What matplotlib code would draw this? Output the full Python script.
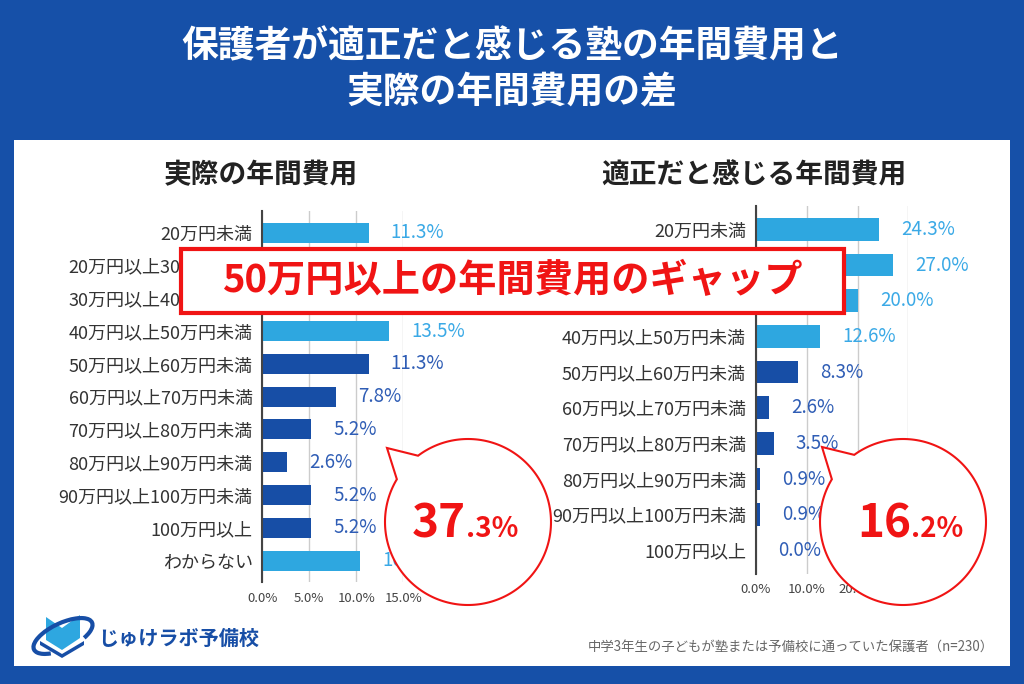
import matplotlib
matplotlib.use('Agg')
import matplotlib.pyplot as plt
from matplotlib.patches import Rectangle, Polygon, Arc
import numpy as np

plt.rcParams['font.family'] = ['Noto Sans CJK JP', 'DejaVu Sans']
plt.rcParams['axes.unicode_minus'] = False

# ---- data ----
actual_labels = ['20万円未満', '20万円以上30万円未満', '30万円以上40万円未満', '40万円以上50万円未満',
                 '50万円以上60万円未満', '60万円以上70万円未満', '70万円以上80万円未満',
                 '80万円以上90万円未満', '90万円以上100万円未満', '100万円以上', 'わからない']
actual_values = [11.3, 14.3, 13.0, 13.5, 11.3, 7.8, 5.2, 2.6, 5.2, 5.2, 10.4]
actual_ticks = [0, 5, 10, 15]

fair_labels = ['20万円未満', '20万円以上30万円未満', '30万円以上40万円未満', '40万円以上50万円未満',
               '50万円以上60万円未満', '60万円以上70万円未満', '70万円以上80万円未満',
               '80万円以上90万円未満', '90万円以上100万円未満', '100万円以上']
fair_values = [24.3, 27.0, 20.0, 12.6, 8.3, 2.6, 3.5, 0.9, 0.9, 0.0]
fair_ticks = [0, 10, 20, 30]

over50_actual = ('37', '.3%')
over50_fair = ('16', '.2%')

title = '保護者が適正だと感じる塾の年間費用と\n実際の年間費用の差'
sub_left = '実際の年間費用'
sub_right = '適正だと感じる年間費用'
banner = '50万円以上の年間費用のギャップ'
note = '中学3年生の子どもが塾または予備校に通っていた保護者（n=230）'
logo = 'じゅけラボ予備校'

# ---- styles ----
W, H = 1024, 684
BLUE = '#1650a8'
LIGHT = '#2ea7e0'
DARK = '#174ea6'
LIGHT_TXT = '#3aa9e6'
DARK_TXT = '#2f5db5'
RED = '#f01414'


def rect(x0, y0, x1, y1):
    return [x0 / W, 1 - y1 / H, (x1 - x0) / W, (y1 - y0) / H]


fig = plt.figure(figsize=(W / 100, H / 100), dpi=100, facecolor=BLUE)

# background layer
bg = fig.add_axes([0, 0, 1, 1], zorder=0)
bg.set_xlim(0, W)
bg.set_ylim(H, 0)
bg.axis('off')
bg.add_patch(Rectangle((14, 140), 996, 526, fc='white', ec='none'))
bg.text(512, 70, title, color='white', fontsize=26.5, fontweight='bold',
        ha='center', va='center', linespacing=1.3)
bg.text(261, 175, sub_left, fontsize=20, fontweight='bold', ha='center', va='center', color='#222')
bg.text(754, 175, sub_right, fontsize=20, fontweight='bold', ha='center', va='center', color='#222')
bg.text(994, 647, note, fontsize=9.6, color='#666', ha='right', va='center')

# logo
bg.add_patch(Polygon([(46, 617), (62, 628), (62, 650), (46, 640)], fc=LIGHT, ec='none'))
bg.add_patch(Polygon([(62, 628), (80, 615), (80, 638), (62, 650)], fc=LIGHT, ec='none'))
bg.add_patch(Polygon([(40, 641), (62, 654), (84, 641), (84, 645), (62, 658), (40, 645)], fc=DARK, ec='none'))
bg.add_patch(Arc((63, 636), 64, 26, angle=-25, theta1=150, theta2=390, color=DARK, lw=3))
bg.text(98, 638, logo, fontsize=14.5, fontweight='bold', color=DARK, ha='left', va='center')


def bar_chart(pos, labels, values, ticks, dark_rows, height):
    ax = fig.add_axes(pos, zorder=1)
    ax.set_facecolor('none')
    y = np.arange(len(values))
    colors = [DARK if i in dark_rows else LIGHT for i in y]
    ax.barh(y, values, height=height, color=colors, zorder=2)
    for i, v in enumerate(values):
        ax.annotate(f'{v:.1f}%', xy=(v, i), xytext=(16, 0), textcoords='offset points',
                    va='center', ha='left', fontsize=13.5,
                    color=DARK_TXT if i in dark_rows else LIGHT_TXT)
    ax.set_xlim(ticks[0], ticks[-1])
    ax.set_ylim(len(values) - 0.35, -0.65)
    ax.set_xticks(ticks)
    ax.set_xticklabels([f'{t:.1f}%' for t in ticks], fontsize=9.5, color='#444')
    ax.set_yticks(y)
    ax.set_yticklabels(labels, fontsize=13, color='#333')
    ax.tick_params(length=0)
    ax.tick_params(axis='y', pad=7)
    ax.tick_params(axis='x', pad=7)
    ax.grid(axis='x', color='#cccccc', lw=1, zorder=0)
    ax.set_axisbelow(True)
    for s in ['top', 'right', 'bottom']:
        ax.spines[s].set_visible(False)
    ax.spines['left'].set_color('#444')
    ax.spines['left'].set_linewidth(1.5)
    ax.spines['left'].set_zorder(3)
    return ax


bar_chart(rect(262.3, 211.4, 403.3, 582), actual_labels, actual_values, actual_ticks,
          range(4, 10), 0.61)
bar_chart(rect(755.7, 206.2, 908.4, 573.5), fair_labels, fair_values, fair_ticks,
          range(4, 10), 0.64)

# overlay layer
ov = fig.add_axes([0, 0, 1, 1], zorder=3)
ov.set_facecolor('none')
ov.set_xlim(0, W)
ov.set_ylim(H, 0)
ov.axis('off')

ov.add_patch(Rectangle((181, 249), 663, 64, fc='white', ec=RED, lw=3))
ov.text(512, 281, banner, color=RED, fontsize=27.5, fontweight='bold', ha='center', va='center')


def bubble(cx, cy, r, tip, a0, a1, big, small, split):
    t = np.radians(np.linspace(a1, a0 + 360, 200))
    pts = list(zip(cx + r * np.cos(t), cy + r * np.sin(t)))
    pts.append(tip)
    ov.add_patch(Polygon(pts, closed=True, fc='white', ec=RED, lw=1.5))
    ov.text(split, cy + 15, big, color=RED, fontsize=33, fontweight='bold',
            ha='right', va='baseline')
    ov.text(split, cy + 15, small, color=RED, fontsize=20, fontweight='bold',
            ha='left', va='baseline')


bubble(468, 522, 83, (387, 448), -149, -127, *over50_actual, 466)
bubble(903, 522, 83, (822, 447), -149, -126, *over50_fair, 911)

plt.savefig('out.png', dpi=100, facecolor=BLUE)
